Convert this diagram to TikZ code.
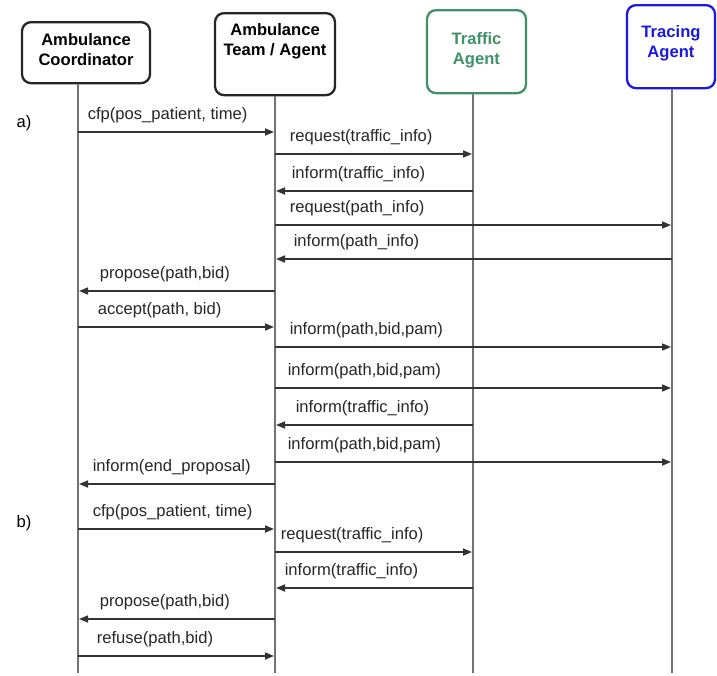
\documentclass[tikz,border=0pt]{standalone}
\usepackage{fontspec}
\setmainfont{Liberation Sans}
\usetikzlibrary{arrows.meta}
\definecolor{trafficgreen}{RGB}{64,145,104}
\definecolor{tracingblue}{RGB}{25,25,225}
\tikzstyle{agentbox}=[draw=black!85, rounded corners=9pt, line width=2.3pt, align=center, inner xsep=0pt, inner ysep=0pt, font=\fontsize{16.6}{20}\selectfont\bfseries]
\tikzstyle{trafficbox}=[agentbox, draw=trafficgreen, text=trafficgreen]
\tikzstyle{tracingbox}=[agentbox, draw=tracingblue, text=tracingblue]
\tikzstyle{lifeline}=[draw=black!55, line width=1.4pt]
\tikzstyle{msgarrow}=[-{Triangle[length=9pt,width=7pt]}, color=black!80, line width=1.6pt, shorten >=1pt]
\tikzstyle{msglabel}=[anchor=base west, inner sep=0pt, xshift=14pt, yshift=13pt, font=\fontsize{16.6}{20}\selectfont, text=black!85]

\begin{document}
\begin{tikzpicture}[x=1pt, y=-1pt]
    \useasboundingbox (0,0) rectangle (717,675);

    \node[agentbox, anchor=north, minimum width=128pt, text height=43pt, text depth=18pt] (C) at (86,21) {Ambulance\\Coordinator};
    \node[agentbox, anchor=north, minimum width=120pt, text height=42pt, text depth=40pt] (T) at (275,12) {Ambulance\\Team / Agent};
    \node[trafficbox, anchor=north, minimum width=99pt, text height=54pt, text depth=29pt] (F) at (476.5,9) {Traffic\\Agent};
    \node[tracingbox, anchor=north, minimum width=88pt, text height=52pt, text depth=31pt] (R) at (671,4) {Tracing\\Agent};

    \coordinate (lc) at (78,673);
    \coordinate (lt) at (275,673);
    \coordinate (lf) at (473,673);
    \coordinate (lr) at (672,673);

    \draw[lifeline] (C.south -| lc) -- (lc);
    \draw[lifeline] (T.south -| lt) -- (lt);
    \draw[lifeline] (F.south -| lf) -- (lf);
    \draw[lifeline] (R.south -| lr) -- (lr);

    \foreach \y [count=\i] in {132,154,191,225,259,291,327,347,388,425,462,484,529,552,588,619,656}
        \coordinate (r\i) at (0,\y);

    \node[anchor=west, font=\fontsize{16.6}{20}\selectfont] (parta) at (13,123) {a)};
    \node[anchor=west, font=\fontsize{16.6}{20}\selectfont] (partb) at (13,523) {b)};

    \path[msgarrow]
        (lc |- r1) edge node[msglabel, at start, xshift=-5pt] {cfp(pos\_patient, time)} (lt |- r1)
        (lt |- r2) edge node[msglabel, at start] {request(traffic\_info)} (lf |- r2)
        (lf |- r3) edge node[msglabel, at end, xshift=2pt] {inform(traffic\_info)} (lt |- r3)
        (lt |- r4) edge node[msglabel, at start] {request(path\_info)} (lr |- r4)
        (lr |- r5) edge node[msglabel, at end, xshift=4pt] {inform(path\_info)} (lt |- r5)
        (lt |- r6) edge node[msglabel, at end, xshift=7pt] {propose(path,bid)} (lc |- r6)
        (lc |- r7) edge node[msglabel, at start, xshift=5pt] {accept(path, bid)} (lt |- r7)
        (lt |- r8) edge node[msglabel, at start] {inform(path,bid,pam)} (lr |- r8)
        (lt |- r9) edge node[msglabel, at start, xshift=-2pt] {inform(path,bid,pam)} (lr |- r9)
        (lf |- r10) edge node[msglabel, at end, xshift=6pt] {inform(traffic\_info)} (lt |- r10)
        (lt |- r11) edge node[msglabel, at start, xshift=-2pt] {inform(path,bid,pam)} (lr |- r11)
        (lt |- r12) edge node[msglabel, at end] {inform(end\_proposal)} (lc |- r12)
        (lc |- r13) edge node[msglabel, at start] {cfp(pos\_patient, time)} (lt |- r13)
        (lt |- r14) edge node[msglabel, at start, xshift=-9pt] {request(traffic\_info)} (lf |- r14)
        (lf |- r15) edge node[msglabel, at end, xshift=-5pt] {inform(traffic\_info)} (lt |- r15)
        (lt |- r16) edge node[msglabel, at end, xshift=7pt] {propose(path,bid)} (lc |- r16)
        (lc |- r17) edge node[msglabel, at start, xshift=4pt] {refuse(path,bid)} (lt |- r17);
\end{tikzpicture}
\end{document}
